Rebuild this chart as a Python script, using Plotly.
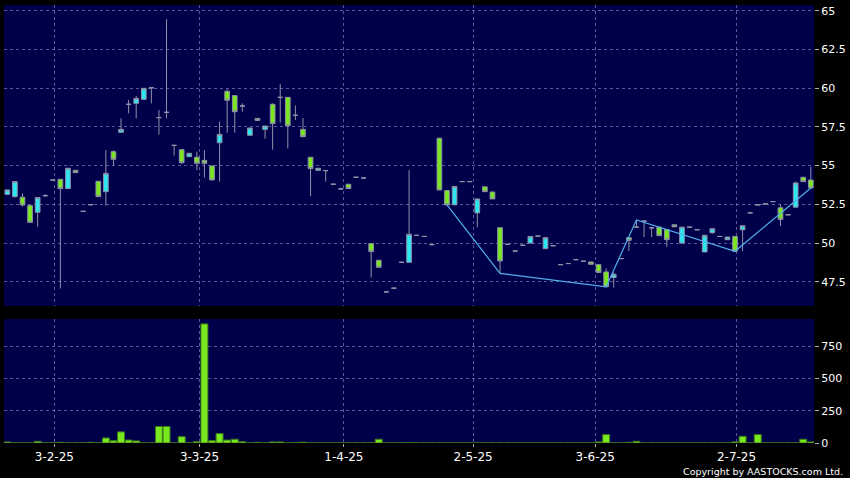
import plotly.graph_objects as go

# ---------------- data ----------------
opens = [53.15, 53.0, 52.96, 52.42, 51.99, 53.06, 54.07, 54.12, 53.52, 54.7,
         52.05, 52.48, 53.99, 53.32, 55.9, 57.15, 58.96, 59.02, 59.28, 60.03,
         58.1, 58.44, 56.31, 56.03, 55.58, 55.54, 55.34, 54.98, 56.48, 59.8,
         59.52, 58.85, 56.96, 58.05, 57.34, 58.96, 59.41, 59.41, 58.25, 57.34,
         55.54, 54.7, 54.68, 53.8, 53.5, 53.8, 54.25, 54.2, 49.97, 48.89,
         46.85, 47.09, 48.76, 48.76, 50.5, 50.43, 49.9, 56.77, 53.39, 52.47,
         53.97, 53.97, 51.95, 53.63, 53.3, 50.99, 49.92, 49.49, 49.86, 50.0,
         50.45, 49.64, 49.83, 48.61, 48.68, 48.93, 48.83, 48.78, 48.61, 48.14,
         47.78, 49.0, 50.35, 51.03, 51.42, 50.99, 51.03, 50.88, 51.18, 50.0,
         51.03, 50.86, 49.43, 50.67, 50.43, 50.22, 50.43, 50.86, 51.95, 52.47,
         52.53, 52.68, 52.28, 51.83, 52.32, 54.25, 54.07]
highs = [53.45, 54.0, 53.2, 52.45, 52.96, 53.17, 54.1, 54.12, 54.83, 54.7,
         52.05, 52.48, 53.99, 56.0, 56.0, 58.05, 59.24, 59.49, 60.0, 60.03,
         58.59, 64.46, 56.31, 56.03, 55.8, 55.9, 56.0, 54.98, 57.84, 59.92,
         59.52, 59.02, 57.43, 58.05, 57.56, 59.02, 60.27, 59.41, 58.89, 58.07,
         55.54, 54.83, 54.68, 53.8, 53.58, 53.8, 54.25, 54.2, 49.97, 48.89,
         46.85, 47.09, 48.76, 54.72, 50.5, 50.43, 49.9, 56.77, 53.39, 53.65,
         53.97, 53.97, 52.85, 53.63, 53.3, 50.99, 49.92, 49.49, 49.86, 50.43,
         50.45, 50.35, 49.83, 48.61, 48.68, 48.93, 48.83, 48.78, 48.61, 48.36,
         48.1, 49.0, 50.35, 51.5, 51.42, 50.99, 51.03, 50.88, 51.18, 51.03,
         51.03, 50.86, 50.5, 50.93, 50.43, 50.39, 50.43, 51.12, 51.95, 52.47,
         52.53, 52.68, 52.49, 51.83, 53.97, 54.25, 54.93]
lows = [53.1, 52.95, 52.36, 51.3, 51.06, 53.0, 54.03, 47.07, 53.52, 54.55,
        52.05, 52.48, 53.0, 52.42, 55.0, 57.15, 58.38, 58.05, 59.28, 59.02,
        57.0, 58.05, 55.65, 55.1, 55.58, 54.72, 54.23, 54.05, 53.97, 57.13,
        57.13, 58.48, 56.96, 57.92, 56.74, 56.03, 57.77, 56.1, 57.95, 56.87,
        53.04, 54.7, 53.97, 53.8, 53.5, 53.52, 54.25, 54.2, 47.77, 48.44,
        46.85, 47.09, 48.76, 48.76, 50.5, 50.43, 49.9, 53.43, 52.47, 52.47,
        53.97, 53.97, 51.03, 53.32, 52.85, 48.04, 49.92, 49.49, 49.86, 50.0,
        50.45, 49.64, 49.83, 48.61, 48.68, 48.93, 48.83, 48.63, 48.1, 47.18,
        47.12, 49.0, 49.49, 51.0, 50.39, 50.39, 50.48, 49.75, 51.05, 50.0,
        51.03, 50.86, 49.43, 50.6, 50.43, 50.22, 49.47, 49.49, 51.95, 52.47,
        52.53, 52.68, 51.1, 51.83, 52.32, 53.97, 53.5]
closes = [53.43, 53.97, 52.46, 51.34, 52.94, 53.06, 54.07, 53.52, 54.83, 54.55,
          52.05, 52.48, 53.0, 54.5, 55.41, 57.34, 58.96, 59.34, 59.99, 60.03,
          58.1, 58.44, 56.31, 55.19, 55.8, 55.15, 55.15, 54.08, 57.02, 59.22,
          58.48, 58.85, 57.43, 57.92, 57.56, 57.71, 59.41, 57.58, 58.25, 56.87,
          54.81, 54.83, 54.68, 53.8, 53.5, 53.52, 54.25, 54.2, 49.45, 48.44,
          46.85, 47.09, 48.76, 50.57, 50.5, 50.43, 49.9, 53.43, 52.47, 53.65,
          53.97, 53.97, 52.85, 53.32, 52.85, 48.85, 49.92, 49.49, 49.86, 50.43,
          50.45, 50.35, 49.83, 48.61, 48.68, 48.93, 48.83, 48.63, 48.1, 47.18,
          47.99, 49.0, 50.18, 51.03, 51.42, 50.99, 50.48, 50.22, 51.05, 51.03,
          51.03, 50.86, 50.5, 50.93, 50.43, 50.39, 49.47, 51.12, 51.95, 52.47,
          52.53, 52.68, 51.53, 51.83, 53.88, 53.97, 53.56]

# volume (thousands), small default for thinly traded days
volume = [8, 1, 1, 1, 13, 1, 1, 5, 1, 1,
          1, 5, 1, 39, 18, 86, 23, 16, 1, 1,
          128, 128, 1, 49, 1, 10, 922, 18, 73, 23,
          29, 10, 1, 5, 1, 8, 8, 1, 4, 6,
          1, 1, 1, 1, 1, 1, 1, 1, 1, 29,
          1, 1, 1, 3, 1, 1, 1, 1, 1, 1,
          1, 1, 1, 1, 1, 1, 1, 1, 1, 1,
          1, 1, 1, 1, 1, 1, 1, 1, 8, 65,
          1, 1, 5, 13, 1, 1, 1, 1, 1, 1,
          1, 1, 1, 1, 1, 1, 8, 52, 1, 65,
          1, 1, 1, 1, 1, 29, 8]

# zigzag overlay (candle index, price)
zz_idx = [58, 65, 79, 83, 96, 106]
zz_val = [52.47, 48.04, 47.18, 51.5, 49.47, 53.56]

tick_labels = ["3-2-25", "3-3-25", "1-4-25", "2-5-25", "3-6-25", "2-7-25"]
tick_pos = [6.2, 25.35, 44.4, 61.45, 77.55, 96.2]

price_ticks = [47.5, 50, 52.5, 55, 57.5, 60, 62.5, 65]
vol_ticks = [0, 250, 500, 750]

x = list(range(len(opens)))

# ---------------- styles ----------------
PANEL = "#00004a"
GRID = "rgba(120,120,175,0.75)"
CYAN = "#2ae8f2"
LIME = "#7ae81e"
WICK = "#9090a8"
FONT = "DejaVu Sans"

fig = go.Figure()

fig.add_trace(go.Candlestick(
    x=x, open=opens, high=highs, low=lows, close=closes,
    increasing=dict(fillcolor=CYAN, line=dict(color=WICK, width=1)),
    decreasing=dict(fillcolor=LIME, line=dict(color=WICK, width=1)),
    whiskerwidth=0, xaxis="x", yaxis="y", showlegend=False, hoverinfo="skip"))

fig.add_trace(go.Scatter(
    x=zz_idx, y=zz_val, mode="lines",
    line=dict(color="#4fb0ec", width=1.2),
    xaxis="x", yaxis="y", showlegend=False, hoverinfo="skip"))

fig.add_trace(go.Bar(
    x=x, y=volume,
    marker=dict(color=LIME, line=dict(color="#3c7a1c", width=1)),
    xaxis="x2", yaxis="y2", showlegend=False, hoverinfo="skip"))

axis_common = dict(showgrid=True, gridcolor=GRID, griddash="3px,3px", gridwidth=1,
                   zeroline=False, showline=False, automargin=False)

fig.update_layout(
    width=850, height=478,
    margin=dict(l=4, r=36, t=5, b=35),
    paper_bgcolor="#000000",
    plot_bgcolor=PANEL,
    boxgap=0.12,
    bargap=0.08,
    font=dict(family=FONT, color="#ffffff", size=11),
    xaxis=dict(domain=[0, 1], anchor="y", range=[-0.44, 106.42],
               tickvals=tick_pos, ticktext=tick_labels, showticklabels=False,
               ticks="", rangeslider=dict(visible=False), **axis_common),
    yaxis=dict(domain=[0.3128, 1], anchor="x", side="right",
               range=[45.94, 65.37], tickvals=price_ticks,
               ticks="outside", ticklen=4, tickcolor="#b0b0b0",
               tickfont=dict(size=11, color="#ffffff", family=FONT), **axis_common),
    xaxis2=dict(domain=[0, 1], anchor="y2", matches="x", range=[-0.44, 106.42],
                tickvals=tick_pos, ticktext=tick_labels,
                ticks="outside", ticklen=3, tickcolor="#b0b0b0",
                tickfont=dict(size=12, color="#ffffff", family=FONT), **axis_common),
    yaxis2=dict(domain=[0, 0.2831], anchor="x2", side="right",
                range=[0, 960], tickvals=vol_ticks,
                ticks="outside", ticklen=4, tickcolor="#b0b0b0",
                tickfont=dict(size=11, color="#ffffff", family=FONT), **axis_common),
    annotations=[dict(text="Copyright by AASTOCKS.com Ltd.", xref="paper", yref="paper",
                      x=1.038, y=-0.066, xanchor="right", yanchor="middle",
                      showarrow=False, font=dict(size=9.5, color="#ffffff", family=FONT))],
)

fig.write_html("out.html",
               config={"displayModeBar": False, "staticPlot": True},
               post_script="document.body.style.margin='0';document.body.style.background='#000';")
